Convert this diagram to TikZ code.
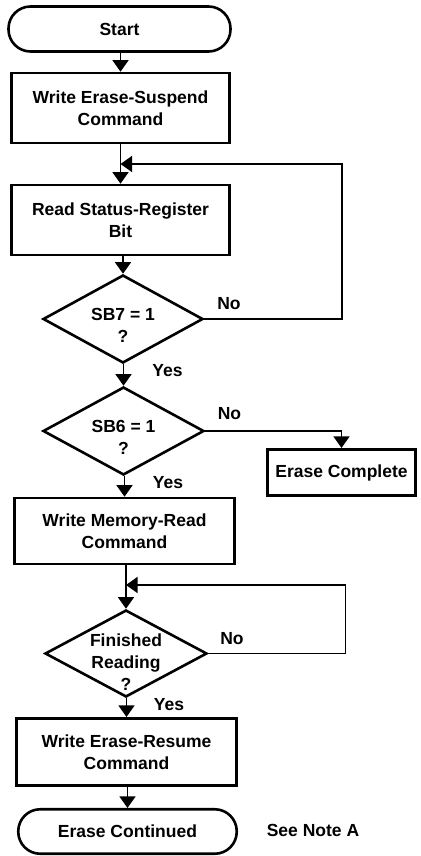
\documentclass[tikz,border=0pt]{standalone}
\usepackage{fontspec}
\setmainfont{Liberation Sans}
\usetikzlibrary{shapes.geometric,arrows.meta}
\begin{document}
\begin{tikzpicture}[x=1pt,y=-1pt,
  every node/.style={font=\fontsize{17.5}{22}\selectfont\bfseries, inner sep=0pt},
  procbox/.style={draw, rectangle, line width=2.6pt, align=center},
  term/.style={draw, rectangle, rounded corners=22pt, line width=2.6pt},
  decision/.style={draw, diamond, line width=2.6pt},
  dtext/.style={align=center},
  flow/.style={line width=1.3pt, -{Triangle[width=16pt,length=11.5pt]}},
]
\useasboundingbox (0,0) rectangle (420,856);

% main column
\node[term, minimum width=222pt, minimum height=45pt] (start) at (119.5,29) {Start};
\node[procbox, minimum width=218pt, minimum height=70pt] (b1) at (120.5,108) {Write Erase-Suspend\\Command};
\node[procbox, minimum width=218pt, minimum height=70pt] (b2) at (120.5,220) {Read Status-Register\\Bit};
\node[decision, minimum width=160pt, minimum height=88pt] (d1) at (123,319) {};
\node[dtext] (d1t) at (123,325.5) {SB7 = 1\\?};
\node[decision, minimum width=161pt, minimum height=88pt] (d2) at (123.5,431) {};
\node[dtext] (d2t) at (123.5,437) {SB6 = 1\\?};
\node[procbox, minimum width=220.5pt, minimum height=66pt] (b3) at (124.5,531) {Write Memory-Read\\Command};
\node[decision, minimum width=162pt, minimum height=87pt] (d3) at (126,653.5) {};
\node[dtext] (d3t) at (126,662) {Finished\\Reading\\?};
\node[procbox, minimum width=220.5pt, minimum height=67.5pt] (b4) at (126.5,752) {Write Erase-Resume\\Command};
\node[term, minimum width=218.5pt, minimum height=44.5pt] (end) at (127.5,831.5) {Erase Continued};

% side branch
\node[procbox, minimum width=148.5pt, minimum height=46.5pt] (ec) at (341.5,472.5) {Erase Complete};

% branch labels
\node (no1) at (229,304) {No};
\node (yes1) at (167.5,371) {Yes};
\node (no2) at (229.5,414) {No};
\node (yes2) at (168,483) {Yes};
\node (no3) at (232,639) {No};
\node (yes3) at (169,705) {Yes};
\node (note) at (313,830.5) {See Note A};

% loop junctions and return columns
\coordinate (j1) at (120.5,164);
\coordinate (j2) at (126,585);
\coordinate (r1) at (342,0);
\coordinate (r2) at (345.5,0);

% straight flow
\draw[flow] (start.south -| b1.north) -- (b1.north);
\draw[flow] (b1.south -| b2.north) -- (b2.north);
\draw[flow] (b2.south -| d1.north) -- (d1.north);
\draw[flow] (d1.south -| d2.north) -- (d2.north);
\draw[flow] (d2.south -| b3.north) -- (b3.north);
\draw[flow] (b3.south -| d3.north) -- (d3.north);
\draw[flow] (d3.south -| b4.north) -- (b4.north);
\draw[flow] (b4.south -| end.north) -- (end.north);

% "No" branches
\draw[flow] (d1.east) -- (d1.east -| r1) |- (j1);
\draw[flow] (d2.east) -| (ec.north);
\draw[flow] (d3.east) -- (d3.east -| r2) |- (j2);
\end{tikzpicture}
\end{document}
